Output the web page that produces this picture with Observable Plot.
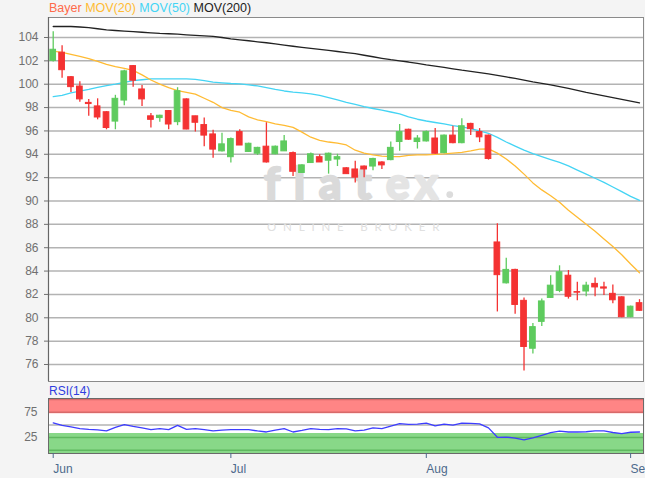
<!DOCTYPE html>
<html>
<head>
<meta charset="utf-8">
<script src="https://cdn.jsdelivr.net/npm/d3@7"></script>
<script src="https://cdn.jsdelivr.net/npm/@observablehq/plot@0.6"></script>
<style>
  html, body { margin: 0; padding: 0; }
  body { width: 645px; height: 478px; overflow: hidden; position: relative; background: #f4f4f4;
         font-family: "Liberation Sans", Arial, sans-serif; }
  #legend { position: absolute; left: 49px; top: 0px; font-size: 12.5px; line-height: 16px; white-space: nowrap; }
  #main { position: absolute; left: 0; top: 16px; }
  #rsilabel { position: absolute; left: 49px; top: 384px; font-size: 12px; line-height: 14px; color: #2f3ee0; }
  #rsi { position: absolute; left: 0; top: 397px; }
</style>
</head>
<body>
<div id="legend"></div>
<div id="main"></div>
<div id="rsilabel">RSI(14)</div>
<div id="rsi"></div>
<script>
// ---- data ----
const seriesNames = ["Bayer", "MOV(20)", "MOV(50)", "MOV(200)"];
const seriesColors = ["#ff6a4a", "#ffbb33", "#44d4f4", "#222222"];

const open  = [102.0,102.7,100.6,99.8,98.4,98.1,97.6,96.8,98.6,101.55,99.55,97.25,97.1,97.7,96.75,98.7,97.25,96.5,95.7,94.25,93.75,95.9,94.2,94.05,94.65,94.0,94.25,94.1,92.4,93.25,93.75,93.45,93.55,92.8,92.7,92.95,92.95,93.3,93.5,95.05,96.1,95.05,95.1,95.35,94.1,95.6,94.95,96.6,95.9,95.6,86.45,82.95,84.1,81.45,77.35,79.65,81.7,82.3,83.6,82.2,82.25,82.9,82.6,82.05,81.75,80.05,81.25];
const high  = [104.5,103.3,100.65,100.2,98.7,98.75,97.65,99.05,101.2,101.6,99.9,97.5,97.35,97.75,99.7,98.75,97.25,97.1,96.05,95.8,95.4,96.1,94.95,94.6,96.7,94.7,95.6,94.2,93.1,94.1,93.95,94.1,94.0,92.85,93.4,93.0,93.65,93.35,95.05,96.55,96.15,95.6,96.0,96.2,95.65,96.4,97.05,96.65,96.2,95.65,88.05,85.1,84.15,81.7,79.5,81.6,83.6,84.45,84.05,83.05,83.05,83.4,83.05,82.8,81.8,81.0,81.55];
const low   = [101.9,100.5,99.3,98.45,97.25,96.95,96.1,96.1,98.15,99.75,98.1,96.25,96.75,96.1,96.45,96.1,95.9,94.65,93.65,94.2,93.25,94.75,94.15,93.9,93.25,93.95,94.25,92.1,92.35,93.2,93.3,92.3,92.95,92.3,91.55,92.0,92.6,92.7,93.45,94.25,95.2,94.45,95.05,94.0,94.05,94.9,94.9,95.6,95.0,93.5,80.5,82.9,80.3,75.45,76.9,79.25,81.65,82.15,81.6,81.45,81.8,81.8,81.9,81.2,80.0,80.0,80.55];
const close = [102.95,101.2,99.75,98.7,98.3,97.15,96.25,98.75,101.1,100.3,98.7,96.95,97.3,96.55,99.4,96.12,96.7,95.6,94.4,94.85,95.3,94.75,94.9,94.55,93.3,94.65,95.1,92.5,93.05,94.0,93.3,94.05,93.75,92.3,92.0,92.7,93.6,93.05,94.55,95.9,95.25,95.35,95.9,94.05,95.6,94.95,96.4,96.15,95.45,93.6,83.65,84.1,81.1,77.5,79.2,81.4,82.75,83.9,81.8,82.15,82.75,82.6,82.5,81.5,80.05,80.95,80.6];

const mov20  = [102.83,102.72,102.55,102.38,102.2,101.95,101.7,101.5,101.35,101.18,100.8,100.36,100.0,99.7,99.45,99.3,99.15,98.8,98.45,98.0,97.75,97.6,97.2,96.95,96.8,96.6,96.48,96.3,95.9,95.46,95.2,95.05,94.95,94.8,94.35,94.1,93.95,93.85,93.8,93.8,93.9,93.95,93.95,94.0,94.03,94.1,94.17,94.3,94.45,94.47,94.1,93.6,93.0,92.3,91.55,90.95,90.45,89.9,89.2,88.6,88.0,87.4,86.75,86.1,85.4,84.6,83.85];
const mov50  = [98.94,99.05,99.25,99.4,99.55,99.72,99.88,100.0,100.15,100.3,100.38,100.45,100.46,100.46,100.46,100.45,100.42,100.3,100.18,100.12,100.06,100.03,99.95,99.85,99.7,99.55,99.42,99.32,99.25,99.18,99.05,98.85,98.65,98.45,98.27,98.08,97.92,97.78,97.62,97.46,97.2,97.0,96.85,96.72,96.6,96.45,96.35,96.2,96.0,95.8,95.45,95.05,94.7,94.35,94.05,93.8,93.55,93.3,93.0,92.65,92.3,91.95,91.6,91.2,90.8,90.4,90.05];
const mov200 = [104.94,104.94,104.94,104.9,104.85,104.75,104.65,104.6,104.55,104.5,104.45,104.4,104.35,104.32,104.28,104.23,104.18,104.13,104.09,104.0,103.89,103.8,103.72,103.63,103.55,103.45,103.35,103.25,103.15,103.06,102.98,102.89,102.8,102.71,102.62,102.48,102.35,102.22,102.1,102.0,101.9,101.78,101.65,101.55,101.45,101.32,101.2,101.1,101.0,100.88,100.75,100.62,100.5,100.35,100.2,100.08,99.95,99.8,99.65,99.48,99.3,99.15,99.0,98.85,98.7,98.55,98.4];
const rsi    = [54,49,46,42.5,41,40,38,45,50.4,47,44,40.5,42.5,40.5,49,41,42.5,40.5,38,39.5,40.5,40.5,40.5,38,36,39.5,42.5,36,39,42.5,41,40.5,42.5,42,38,39.5,44,42.5,47.5,52.3,51,51.5,53.5,48,51.5,49.5,53.5,53,52,44,25.5,26,24,20.5,24.5,29.5,34.8,37.9,36,36,36.5,38,38,35,32.8,35.5,36];

const priceTicks = [76,78,80,82,84,86,88,90,92,94,96,98,100,102,104];
const rsiTicks = [25, 75];
const monthTickIdx = [0, 20, 42, 65];
const monthLabels = ["Jun", "Jul", "Aug", "Sep"];
const watermark = "flatex";
const watermarkSub = "ONLINE BROKER";

// ---- build ----
const UP = "#5ecb5e", DOWN = "#f43232";
const candles = open.map((o, i) => ({i, open: o, high: high[i], low: low[i], close: close[i], up: close[i] >= o}));
const XD = [-0.53, 66.45];
const idx = (d, i) => i;

// legend
document.getElementById("legend").innerHTML = seriesNames
  .map((n, k) => `<span style="color:${seriesColors[k]}">${n}</span>`).join(" ");

const wmFont = "Lato, DejaVu Sans, sans-serif";
const main = Plot.plot({
  width: 645, height: 366,
  marginTop: 1, marginBottom: 1, marginLeft: 48, marginRight: 2,
  style: {background: "transparent", fontFamily: "Liberation Sans, Arial, sans-serif", fontSize: "12px", color: "#707070", overflow: "visible"},
  x: {type: "linear", domain: XD, axis: null},
  y: {domain: [74.544, 105.712], axis: null},
  marks: [
    Plot.frame({fill: "white"}),
    Plot.ruleY(priceTicks, {stroke: "#b3b3b3", strokeWidth: 1.5}),
    Plot.text([watermark.slice(0, 4)], {x: 23.75, y: 90.13, text: d => d, textAnchor: "start", lineAnchor: "bottom", fontSize: 44, fontWeight: "bold", fontFamily: wmFont, fill: "#dadada", stroke: "#dadada", strokeWidth: 2.6}),
    Plot.text([watermark.slice(4)], {x: 37.45, y: 90.13, text: d => d, textAnchor: "start", lineAnchor: "bottom", fontSize: 44, fontWeight: "bold", fontFamily: wmFont, fill: "#e4e4e4", stroke: "#e4e4e4", strokeWidth: 2.6}),
    Plot.dot([0], {x: 44.64, y: 90.55, r: 3.4, fill: "#dcdcdc"}),
    Plot.text([watermarkSub], {x: 24.08, y: 87.47, text: d => d, textAnchor: "start", lineAnchor: "bottom", fontSize: 11.5, fontFamily: wmFont, fill: "#e0e0e0"}),
    Plot.line(mov200, {x: idx, y: d => d, stroke: seriesColors[3], strokeWidth: 1.3}),
    Plot.line(mov50, {x: idx, y: d => d, stroke: seriesColors[2], strokeWidth: 1.3}),
    Plot.line(mov20, {x: idx, y: d => d, stroke: seriesColors[1], strokeWidth: 1.3}),
    Plot.ruleX(candles, {x: "i", y1: "low", y2: "high", stroke: d => d.up ? UP : DOWN, strokeWidth: 1.3}),
    Plot.rect(candles, {x1: d => d.i - 0.32, x2: d => d.i + 0.32, y1: "open", y2: "close", fill: d => d.up ? UP : DOWN, stroke: d => d.up ? UP : DOWN, strokeWidth: 1}),
    Plot.frame({stroke: "#8a8a8a"}),
    Plot.ruleX([XD[0]], {stroke: "#666", strokeWidth: 1.2}),
    Plot.axisY(priceTicks, {tickSize: 4, tickPadding: 6, label: null, fontSize: 12})
  ]
});
document.getElementById("main").appendChild(main);
d3.select(main).selectAll("text").each(function () {
  const t = this.textContent;
  if (t === "flat") this.setAttribute("letter-spacing", "14");
  if (t === "ex") this.setAttribute("letter-spacing", "6");
  if (t === watermarkSub) this.setAttribute("letter-spacing", "6.8");
});

const RD = [-6.4, 102];
const rsiChart = Plot.plot({
  width: 645, height: 81,
  marginTop: 1, marginBottom: 25, marginLeft: 48, marginRight: 2,
  style: {background: "transparent", fontFamily: "Liberation Sans, Arial, sans-serif", fontSize: "12px", color: "#707070", overflow: "visible"},
  x: {type: "linear", domain: XD, axis: null},
  y: {domain: RD, axis: null},
  marks: [
    Plot.frame({fill: "white"}),
    Plot.rect([0], {x1: XD[0], x2: XD[1], y1: 72, y2: RD[1], fill: "#ff8585"}),
    Plot.rect([0], {x1: XD[0], x2: XD[1], y1: RD[0], y2: 33, fill: "#88d888"}),
    Plot.ruleY([100, 75], {stroke: "#d86a6a", strokeWidth: 1.5}),
    Plot.ruleY([25, 0], {stroke: "#5fb85f", strokeWidth: 1.5}),
    Plot.ruleY([50], {stroke: "#b3b3b3", strokeWidth: 1.5}),
    Plot.line(rsi, {x: idx, y: d => d, stroke: "#3d3dff", strokeWidth: 1.3}),
    Plot.frame({stroke: "#6a6a6a"}),
    Plot.axisY(rsiTicks, {tickSize: 0, tickPadding: 11, label: null, fontSize: 12}),
    Plot.axisX(monthTickIdx, {tickSize: 5, tickPadding: 6, textAnchor: "start", label: null, fontSize: 12,
      color: "#4d6a8c", tickFormat: d => monthLabels[monthTickIdx.indexOf(d)]})
  ]
});
document.getElementById("rsi").appendChild(rsiChart);
</script>
</body>
</html>
